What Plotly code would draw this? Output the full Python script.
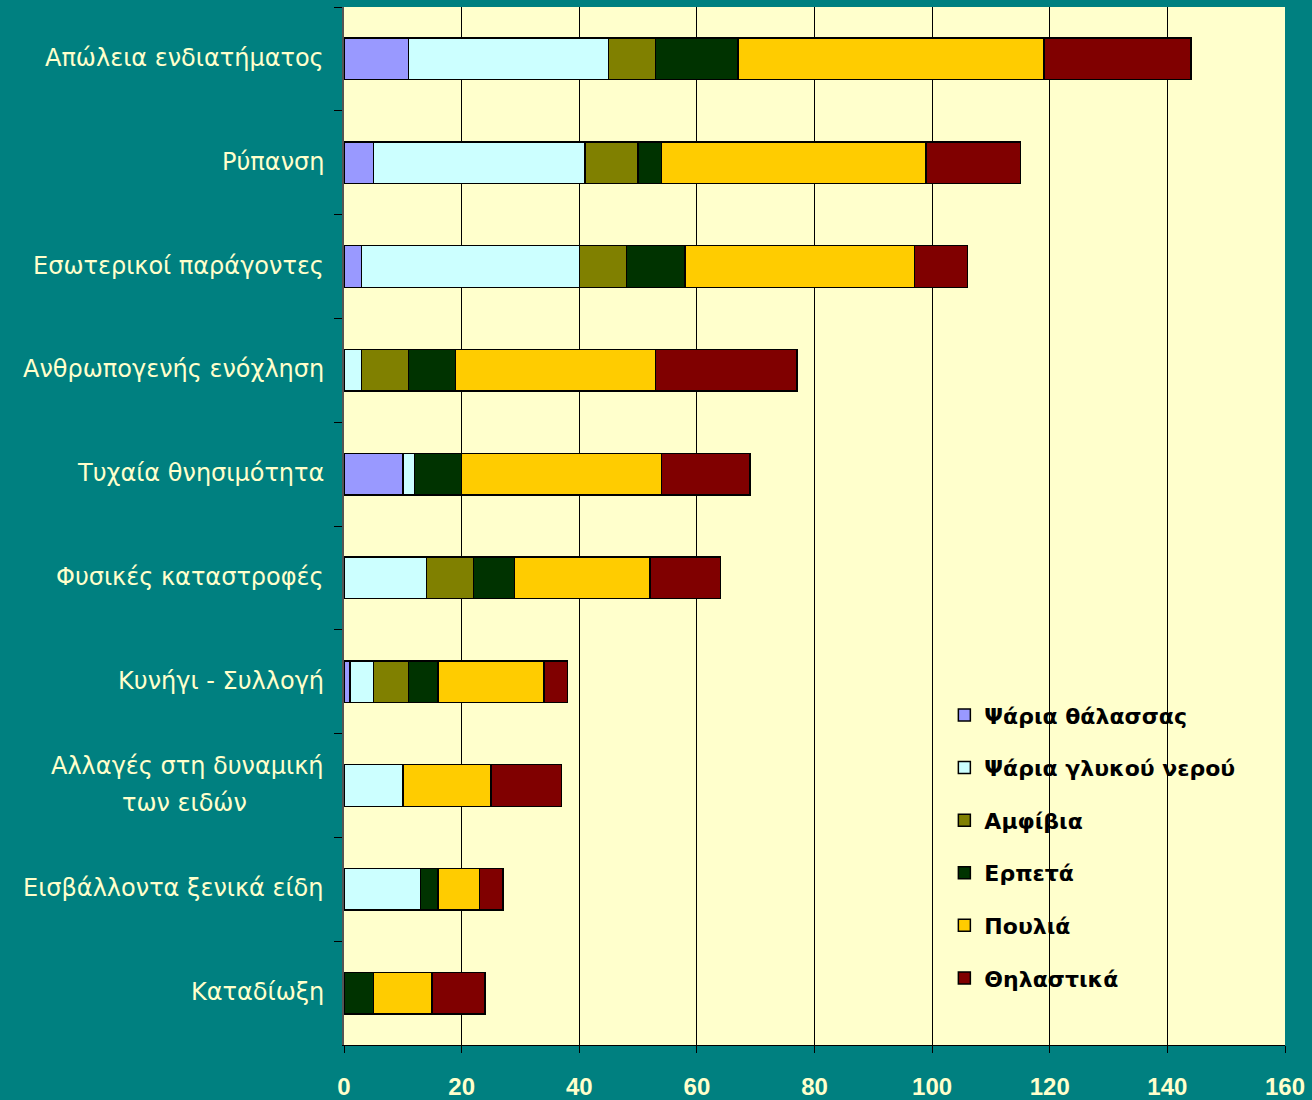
import plotly.graph_objects as go

# threat categories (top to bottom)
categories = [
    "Απώλεια ενδιατήματος",
    "Ρύπανση",
    "Εσωτερικοί παράγοντες",
    "Ανθρωπογενής ενόχληση",
    "Τυχαία θνησιμότητα",
    "Φυσικές καταστροφές",
    "Κυνήγι - Συλλογή",
    "Αλλαγές στη δυναμική<br>των ειδών",
    "Εισβάλλοντα ξενικά είδη",
    "Καταδίωξη",
]

# number of species per group for each threat
sea_fish = [11, 5, 3, 0, 10, 0, 1, 0, 0, 0]
fresh_fish = [34, 36, 37, 3, 2, 14, 4, 10, 13, 0]
amphibians = [8, 9, 8, 8, 0, 8, 6, 0, 0, 0]
reptiles = [14, 4, 10, 8, 8, 7, 5, 0, 3, 5]
birds = [52, 45, 39, 34, 34, 23, 18, 15, 7, 10]
mammals = [25, 16, 9, 24, 15, 12, 4, 12, 4, 9]

x_ticks = [0, 20, 40, 60, 80, 100, 120, 140, 160]

series = [
    ("Ψάρια θάλασσας", sea_fish, "#9999FF"),
    ("Ψάρια γλυκού νερού", fresh_fish, "#CCFFFF"),
    ("Αμφίβια", amphibians, "#808000"),
    ("Ερπετά", reptiles, "#003300"),
    ("Πουλιά", birds, "#FFCC00"),
    ("Θηλαστικά", mammals, "#800000"),
]

label_font = "DejaVu Sans"
fig = go.Figure()
for name, vals, col in series:
    fig.add_trace(
        go.Bar(
            y=categories,
            x=vals,
            name=name,
            orientation="h",
            legendgroup=name,
            marker=dict(color=col, line=dict(color="black", width=1.5)),
        )
    )

# category labels as annotations (two-line label gets its lines centred and spaced out)
lab_font = dict(family=label_font, size=24, color="#FFFFCC")
for c in categories:
    lines = c.split("<br>")
    if len(lines) == 1:
        fig.add_annotation(x=0, xref="paper", y=c, yref="y", text=c,
                           showarrow=False, xanchor="right", xshift=-18,
                           yshift=1, font=lab_font)
    else:
        fig.add_annotation(x=0, xref="paper", y=c, yref="y", text=lines[0],
                           showarrow=False, xanchor="right", xshift=-18,
                           yshift=20, font=lab_font)
        fig.add_annotation(x=0, xref="paper", y=c, yref="y", text=lines[1],
                           showarrow=False, xanchor="center", xshift=-160,
                           yshift=-17, font=lab_font)

fig.update_layout(
    barmode="stack",
    bargap=0.6,
    width=1312,
    height=1100,
    paper_bgcolor="#008080",
    plot_bgcolor="#FFFFCC",
    margin=dict(l=344, r=27, t=7, b=55),
    legend=dict(
        x=0.638,
        y=0.338,
        xanchor="left",
        yanchor="top",
        traceorder="grouped",
        tracegroupgap=21,
        bgcolor="rgba(0,0,0,0)",
        font=dict(family=label_font, size=22, color="black", weight="bold"),
        itemwidth=30,
    ),
)
fig.update_xaxes(
    range=[0, 160],
    tickvals=x_ticks,
    automargin=False,
    showgrid=True,
    gridcolor="black",
    gridwidth=1,
    showline=True,
    linecolor="black",
    linewidth=1,
    ticks="outside",
    ticklen=7,
    tickcolor="black",
    ticklabelstandoff=13,
    tickfont=dict(family="Liberation Sans", size=24, color="#FFFFCC", weight="bold"),
    zeroline=False,
)
fig.update_yaxes(
    categoryorder="array",
    categoryarray=categories,
    autorange="reversed",
    automargin=False,
    showticklabels=False,
    ticks="outside",
    tickson="boundaries",
    ticklen=8,
    tickcolor="black",
    showline=True,
    linecolor="#555555",
    linewidth=2,
    showgrid=False,
)

fig.write_html("out.html", config={"displayModeBar": False},
               post_script="document.body.style.margin='0';")
